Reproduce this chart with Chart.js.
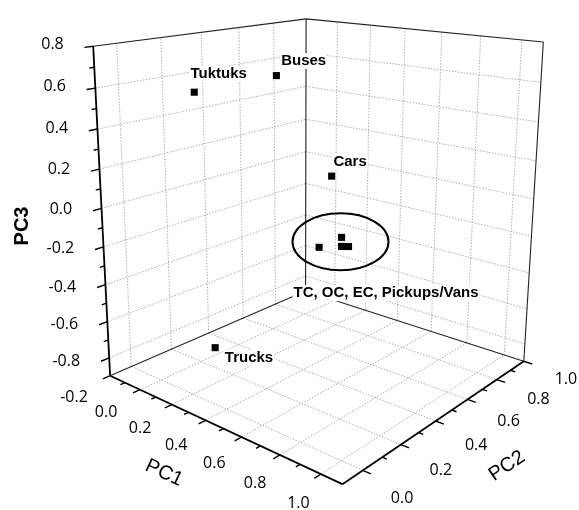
<!DOCTYPE html>
<html>
<head>
<meta charset="utf-8">
<script src="https://cdn.jsdelivr.net/npm/chart.js@4.4.1/dist/chart.umd.min.js"></script>
<style>
html,body{margin:0;padding:0;background:#ffffff;overflow:hidden;}
#wrap{width:579px;height:510px;}
canvas{display:block;}
</style>
</head>
<body>
<div id="wrap"><canvas id="chart" width="579" height="510"></canvas></div>
<script>
// ---------------- data ----------------
const categories = ['Tuktuks', 'Buses', 'Cars', 'Trucks', 'TC', 'OC', 'EC', 'Pickups/Vans'];
const pc1Values = [0.00, 0.25, 0.36, 0.34, 0.29, 0.42, 0.42, 0.46];
const pc2Values = [0.20, 0.40, 0.60, 0.00, 0.60, 0.60, 0.60, 0.60];
const pc3Values = [0.55, 0.63, 0.08, -0.60, -0.33, -0.24, -0.29, -0.28];
const pc1Ticks = [-0.2, 0.0, 0.2, 0.4, 0.6, 0.8, 1.0];
const pc2Ticks = [0.0, 0.2, 0.4, 0.6, 0.8, 1.0];
const pc3Ticks = [-0.8, -0.6, -0.4, -0.2, 0.0, 0.2, 0.4, 0.6, 0.8];
const pc1Range = [-0.2, 1.1];
const pc2Range = [-0.1, 1.0];
const pc3Range = [-0.9, 0.8];
const clusterNames = ['TC', 'OC', 'EC', 'Pickups/Vans'];
const clusterLabel = 'TC, OC, EC, Pickups/Vans';

// ---------------- view (camera fitted to the box corners) ----------------
const W = 579, H = 510;
const boxAnchors = [
  [0, 0, 1, 90, 42],
  [0, 0, 0, 107, 378],
  [0, 1, 1, 306, 14],
  [0, 1, 0, 306, 292],
  [1, 1, 1, 548, 38],
  [1, 1, 0, 528, 363],
  [1, 0, 0, 343, 489]
];
function fitProjection(anchors) {
  const A = [], b = [];
  for (const [u, v, w, px, py] of anchors) {
    const x = (px - W / 2) / (W / 2), y = (py - H / 2) / (H / 2);
    A.push([u, v, w, 1, 0, 0, 0, 0, -x * u, -x * v, -x * w]); b.push(x);
    A.push([0, 0, 0, 0, u, v, w, 1, -y * u, -y * v, -y * w]); b.push(y);
  }
  const n = 11;
  const M = [];
  for (let i = 0; i < n; i++) M.push(new Array(n + 1).fill(0));
  for (let r = 0; r < A.length; r++) {
    for (let i = 0; i < n; i++) {
      for (let j = 0; j < n; j++) M[i][j] += A[r][i] * A[r][j];
      M[i][n] += A[r][i] * b[r];
    }
  }
  for (let c = 0; c < n; c++) {
    let p = c;
    for (let r = c + 1; r < n; r++) if (Math.abs(M[r][c]) > Math.abs(M[p][c])) p = r;
    const t = M[c]; M[c] = M[p]; M[p] = t;
    for (let r = 0; r < n; r++) {
      if (r === c) continue;
      const f = M[r][c] / M[c][c];
      for (let k = c; k <= n; k++) M[r][k] -= f * M[c][k];
    }
  }
  return M.map((row, i) => row[n] / row[i]);
}
const P = fitProjection(boxAnchors);
function norm(val, r) { return (val - r[0]) / (r[1] - r[0]); }
function project(a, b, c) {
  const u = norm(a, pc1Range), v = norm(b, pc2Range), w = norm(c, pc3Range);
  const d = P[8] * u + P[9] * v + P[10] * w + 1;
  const xn = (P[0] * u + P[1] * v + P[2] * w + P[3]) / d;
  const yn = (P[4] * u + P[5] * v + P[6] * w + P[7]) / d;
  return { x: xn * W / 2 + W / 2, y: yn * H / 2 + H / 2 };
}
const GAP = { x: null, y: null };
function seg(arr, p, q) { arr.push(project(...p), project(...q), GAP); }

// ---------------- geometry built from the ranges / ticks ----------------
const [x0, x1] = pc1Range, [y0, y1] = pc2Range, [z0, z1] = pc3Range;
const inside = (t, r) => t > r[0] + 1e-9 && t < r[1] - 1e-9;

const gridData = [];
pc1Ticks.filter(t => inside(t, pc1Range)).forEach(t => {
  seg(gridData, [t, y0, z0], [t, y1, z0]);      // floor
  seg(gridData, [t, y1, z0], [t, y1, z1]);      // back-right wall
});
pc2Ticks.filter(t => inside(t, pc2Range)).forEach(t => {
  seg(gridData, [x0, t, z0], [x1, t, z0]);      // floor
  seg(gridData, [x0, t, z0], [x0, t, z1]);      // back-left wall
});
pc3Ticks.filter(t => inside(t, pc3Range)).forEach(t => {
  seg(gridData, [x0, y0, t], [x0, y1, t]);      // back-left wall
  seg(gridData, [x0, y1, t], [x1, y1, t]);      // back-right wall
});

const edgeData = [];
seg(edgeData, [x0, y0, z1], [x0, y1, z1]);
seg(edgeData, [x0, y1, z1], [x1, y1, z1]);
seg(edgeData, [x0, y1, z0], [x0, y1, z1]);
seg(edgeData, [x1, y1, z0], [x1, y1, z1]);
seg(edgeData, [x0, y0, z0], [x0, y1, z0]);
seg(edgeData, [x0, y1, z0], [x1, y1, z0]);

const axisData = [];
seg(axisData, [x0, y0, z0], [x0, y0, z1]);   // PC3
seg(axisData, [x0, y0, z0], [x1, y0, z0]);   // PC1
seg(axisData, [x1, y0, z0], [x1, y1, z0]);   // PC2

function minors(ticks) {
  const m = [];
  for (let i = 0; i < ticks.length - 1; i++) m.push((ticks[i] + ticks[i + 1]) / 2);
  return m;
}
function screenDir(p, d) {
  const a = project(...p);
  const b = project(p[0] + d[0] * 0.01, p[1] + d[1] * 0.01, p[2] + d[2] * 0.01);
  const dx = b.x - a.x, dy = b.y - a.y, l = Math.hypot(dx, dy);
  return { a, ux: dx / l, uy: dy / l };
}
const tickData = [];
function addTick(p, d, len) {
  const s = screenDir(p, d);
  tickData.push({ x: s.a.x, y: s.a.y }, { x: s.a.x + s.ux * len, y: s.a.y + s.uy * len }, GAP);
}
pc3Ticks.forEach(t => addTick([x0, y0, t], [0, -1, 0], 9));
minors(pc3Ticks).forEach(t => addTick([x0, y0, t], [0, -1, 0], 5));
pc1Ticks.forEach(t => addTick([t, y0, z0], [0, -1, 0], 8));
minors(pc1Ticks).forEach(t => addTick([t, y0, z0], [0, -1, 0], 5));
pc2Ticks.forEach(t => addTick([x1, t, z0], [1, 0, 0], 9));
minors(pc2Ticks).forEach(t => addTick([x1, t, z0], [1, 0, 0], 5));

const pointData = categories.map((c, i) => Object.assign(project(pc1Values[i], pc2Values[i], pc3Values[i]), { name: c }));

// ---------------- label styles ----------------
const labelFont = 'bold 15px "Liberation Sans", Arial, sans-serif';
const tickFont = '16px "Open Sans", sans-serif';
const labelOffsets = { Tuktuks: [-2, -15], Buses: [5, -11], Cars: [1, -13], Trucks: [11, 8] };

function clusterCenter() {
  const pts = pointData.filter(p => clusterNames.includes(p.name));
  return { x: pts.reduce((s, p) => s + p.x, 0) / pts.length, y: pts.reduce((s, p) => s + p.y, 0) / pts.length };
}
function labelItems(ctx) {
  ctx.font = labelFont;
  const items = [];
  pointData.forEach(p => {
    const o = labelOffsets[p.name];
    if (!o) return;
    items.push({ text: p.name, x: p.x + o[0], y: p.y + o[1] });
  });
  const c = clusterCenter();
  items.push({ text: clusterLabel, x: c.x - 45, y: c.y + 49 });
  items.forEach(it => { it.w = ctx.measureText(it.text).width; });
  return items;
}
const lerp = (a, b, f) => a + (b - a) * f;

const overlay = {
  id: 'overlay',
  beforeDatasetDraw(chart, args) {
    if (args.index !== 0) return;
    const ctx = chart.ctx;
    ctx.save();
    ctx.fillStyle = '#ffffff';
    labelItems(ctx).forEach(it => ctx.fillRect(it.x - 1, it.y - 8, it.w + 2, 16));
    ctx.restore();
  },
  afterDatasetsDraw(chart) {
    const ctx = chart.ctx;
    ctx.save();
    // ellipse around the cluster
    const c = clusterCenter();
    ctx.beginPath();
    ctx.ellipse(c.x + 2, c.y - 2.5, 48, 28.5, 0, 0, Math.PI * 2);
    ctx.lineWidth = 2;
    ctx.strokeStyle = '#000';
    ctx.stroke();
    // point labels
    ctx.fillStyle = '#000';
    ctx.textBaseline = 'middle';
    ctx.textAlign = 'left';
    labelItems(ctx).forEach(it => ctx.fillText(it.text, it.x, it.y));
    // tick labels
    ctx.font = tickFont;
    ctx.textAlign = 'right';
    pc3Ticks.forEach(t => { const p = project(x0, y0, t); ctx.fillText(t.toFixed(1), p.x - 26, p.y + 2); });
    ctx.textAlign = 'center';
    pc1Ticks.forEach((t, i) => {
      const p = project(t, y0, z0), f = i / (pc1Ticks.length - 1);
      ctx.fillText(t.toFixed(1), p.x + lerp(-33, -23, f), p.y + lerp(19, 25, f));
    });
    pc2Ticks.forEach((t, i) => {
      const p = project(x1, t, z0), f = i / (pc2Ticks.length - 1);
      ctx.fillText(t.toFixed(1), p.x + 38, p.y + lerp(24, 16, f));
    });
    // axis titles
    function title(text, x, y, ang, font) {
      ctx.save(); ctx.translate(x, y); ctx.rotate(ang * Math.PI / 180);
      ctx.font = font; ctx.textAlign = 'center'; ctx.textBaseline = 'middle';
      ctx.fillText(text, 0, 0); ctx.restore();
    }
    title('PC3', 22, 226, -90, 'bold 20px "Liberation Sans", Arial, sans-serif');
    title('PC1', 164, 473, 25, '20px "Liberation Sans", Arial, sans-serif');
    title('PC2', 507, 466, -34, '20px "Liberation Sans", Arial, sans-serif');
    ctx.restore();
  }
};

new Chart(document.getElementById('chart'), {
  type: 'scatter',
  data: {
    datasets: [
      { label: 'Vehicles', data: pointData, pointStyle: 'rect', pointRadius: 5, backgroundColor: '#000', borderWidth: 0, showLine: false },
      { label: 'axes', data: axisData, showLine: true, borderColor: '#000', borderWidth: 1.8, pointRadius: 0 },
      { label: 'ticks', data: tickData, showLine: true, borderColor: '#000', borderWidth: 1.4, pointRadius: 0 },
      { label: 'edges', data: edgeData, showLine: true, borderColor: '#222', borderWidth: 1.1, pointRadius: 0 },
      { label: 'grid', data: gridData, showLine: true, borderColor: '#9a9a9a', borderWidth: 0.8, borderDash: [1.5, 1.5], pointRadius: 0 }
    ]
  },
  options: {
    responsive: false,
    animation: false,
    devicePixelRatio: 1,
    events: [],
    layout: { padding: 0 },
    plugins: { legend: { display: false }, tooltip: { enabled: false } },
    scales: {
      x: { type: 'linear', min: 0, max: W, display: false },
      y: { type: 'linear', min: 0, max: H, reverse: true, display: false }
    },
    elements: { line: { tension: 0 } }
  },
  plugins: [overlay]
});
</script>
</body>
</html>
